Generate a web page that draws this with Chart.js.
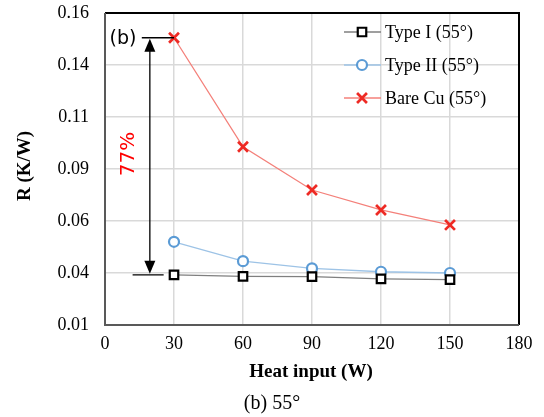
<!DOCTYPE html>
<html>
<head>
<meta charset="utf-8">
<title>R vs heat input (55°)</title>
<script src="https://cdn.jsdelivr.net/npm/chart.js@4.4.1/dist/chart.umd.min.js"></script>
<style>
  html, body { margin: 0; padding: 0; background: #fff; }
  #wrap { width: 544px; height: 417px; }
</style>
</head>
<body>
<div id="wrap"><canvas id="myChart" width="544" height="417"></canvas></div>
<script>
// heat input (W)
var heatInput = [30, 60, 90, 120, 150];
// thermal resistance R (K/W)
var typeI   = [0.0341, 0.0334, 0.0333, 0.0322, 0.0318];
var typeII  = [0.0500, 0.0407, 0.0372, 0.0356, 0.0350];
var bareCu  = [0.1481, 0.0957, 0.0749, 0.0653, 0.0581];
var seriesNames = ['Type I (55°)', 'Type II (55°)', 'Bare Cu (55°)'];
var yTickLabels = ['0.01', '0.04', '0.06', '0.09', '0.11', '0.14', '0.16'];
var xTickLabels = ['0', '30', '60', '90', '120', '150', '180'];

var serif = '"Liberation Serif", "Times New Roman", serif';
var sans = '"DejaVu Sans", sans-serif';

function toPoints(ys) {
  return heatInput.map(function (x, i) { return { x: x, y: ys[i] }; });
}

// legend, frame, axis titles, caption and the 77% annotation
var decorPlugin = {
  id: 'decor',
  afterDraw: function (chart) {
    var ctx = chart.ctx;
    var a = chart.chartArea;
    var xs = chart.scales.x, ys = chart.scales.y;
    ctx.save();

    // frame
    ctx.strokeStyle = '#000';
    ctx.lineWidth = 2;
    ctx.beginPath();
    ctx.moveTo(a.left, a.top); ctx.lineTo(a.right, a.top); ctx.lineTo(a.right, a.bottom);
    ctx.stroke();
    ctx.strokeStyle = '#595959';
    ctx.beginPath();
    ctx.moveTo(a.left, a.top); ctx.lineTo(a.left, a.bottom); ctx.lineTo(a.right, a.bottom);
    ctx.stroke();

    // legend
    var ds = chart.data.datasets;
    for (var i = 0; i < ds.length; i++) {
      var ly = 32 + i * 33;
      ctx.strokeStyle = ds[i].borderColor;
      ctx.lineWidth = 1.3;
      ctx.beginPath(); ctx.moveTo(344, ly); ctx.lineTo(381, ly); ctx.stroke();
      var opt = { pointStyle: ds[i].pointStyle, radius: ds[i].pointRadius, borderWidth: ds[i].pointBorderWidth };
      ctx.fillStyle = '#fff';
      ctx.strokeStyle = ds[i].pointBorderColor;
      ctx.lineWidth = ds[i].pointBorderWidth;
      Chart.helpers.drawPoint(ctx, opt, 362, ly);
      ctx.fillStyle = '#000';
      ctx.font = '18px ' + serif;
      ctx.textAlign = 'left';
      ctx.textBaseline = 'middle';
      ctx.fillText(seriesNames[i], 385, ly + 1);
    }

    // axis titles
    ctx.fillStyle = '#000';
    ctx.font = 'bold 19px ' + serif;
    ctx.textAlign = 'center';
    ctx.textBaseline = 'middle';
    ctx.fillText('Heat input (W)', 311, 372);
    ctx.save();
    ctx.translate(25, 166);
    ctx.rotate(-Math.PI / 2);
    ctx.fillText('R (K/W)', 0, 0);
    ctx.restore();

    // caption
    ctx.font = '20px ' + serif;
    ctx.fillText('(b) 55°', 272, 404);

    // reduction annotation
    var topY = ys.getPixelForValue(bareCu[0]);
    var botY = ys.getPixelForValue(typeI[0]);
    var ax = xs.getPixelForValue(19.5);
    ctx.strokeStyle = '#000';
    ctx.lineWidth = 1.3;
    ctx.beginPath();
    ctx.moveTo(xs.getPixelForValue(16), topY); ctx.lineTo(xs.getPixelForValue(30), topY);
    ctx.moveTo(xs.getPixelForValue(12), botY); ctx.lineTo(xs.getPixelForValue(25.5), botY);
    ctx.moveTo(ax, topY + 12); ctx.lineTo(ax, botY - 12);
    ctx.stroke();
    ctx.fillStyle = '#000';
    ctx.beginPath();
    ctx.moveTo(ax, topY + 1); ctx.lineTo(ax - 5.5, topY + 14); ctx.lineTo(ax + 5.5, topY + 14); ctx.closePath();
    ctx.fill();
    ctx.beginPath();
    ctx.moveTo(ax, botY - 1); ctx.lineTo(ax - 5.5, botY - 14); ctx.lineTo(ax + 5.5, botY - 14); ctx.closePath();
    ctx.fill();

    ctx.font = '19px ' + sans;
    ctx.textAlign = 'center';
    ctx.fillText('(b)', 123, topY + 1);

    ctx.save();
    ctx.translate(129, 154);
    ctx.rotate(-Math.PI / 2);
    ctx.fillStyle = '#ff0000';
    ctx.font = '20px ' + sans;
    ctx.fillText('77%', 0, 0);
    ctx.restore();

    ctx.restore();
  }
};

var bgPlugin = {
  id: 'bg',
  beforeDraw: function (chart) {
    var ctx = chart.ctx;
    ctx.save();
    ctx.fillStyle = '#fff';
    ctx.fillRect(0, 0, chart.width, chart.height);
    ctx.restore();
  }
};

new Chart(document.getElementById('myChart'), {
  type: 'line',
  data: {
    datasets: [{
      label: seriesNames[0],
      data: toPoints(typeI),
      borderColor: '#7f7f7f',
      borderWidth: 1.3,
      pointStyle: 'rect',
      pointRadius: 6,
      pointBorderWidth: 2.2,
      pointBorderColor: '#000',
      pointBackgroundColor: '#fff'
    }, {
      label: seriesNames[1],
      data: toPoints(typeII),
      borderColor: '#9dc3e6',
      borderWidth: 1.3,
      pointStyle: 'circle',
      pointRadius: 5,
      pointBorderWidth: 2.2,
      pointBorderColor: '#5b9bd5',
      pointBackgroundColor: '#fff'
    }, {
      label: seriesNames[2],
      data: toPoints(bareCu),
      borderColor: '#f4807a',
      borderWidth: 1.3,
      pointStyle: 'crossRot',
      pointRadius: 7,
      pointBorderWidth: 2.7,
      pointBorderColor: '#ee2a24',
      pointBackgroundColor: '#fff'
    }]
  },
  options: {
    responsive: false,
    animation: false,
    events: [],
    layout: { padding: { left: 0, right: 25, top: 13, bottom: 0 } },
    plugins: { legend: { display: false }, tooltip: { enabled: false } },
    scales: {
      x: {
        type: 'linear',
        min: 0, max: 180,
        afterFit: function (s) { s.height = 92; s.paddingLeft = 0; s.paddingRight = 0; },
        afterBuildTicks: function (s) { s.ticks = xTickLabels.map(function (t) { return { value: +t }; }); },
        grid: { color: '#d9d9d9', lineWidth: 1.5, drawTicks: false },
        border: { display: false },
        ticks: {
          padding: 8, color: '#000',
          font: { family: serif, size: 18 },
          callback: function (v, i) { return xTickLabels[i]; }
        }
      },
      y: {
        min: 0.01, max: 0.16,
        afterFit: function (s) { s.width = 105; s.paddingTop = 0; s.paddingBottom = 0; },
        afterBuildTicks: function (s) {
          s.ticks = yTickLabels.map(function (t, i) { return { value: 0.01 + i * 0.025 }; });
        },
        grid: { color: '#d9d9d9', lineWidth: 1.5, drawTicks: false },
        border: { display: false },
        ticks: {
          padding: 16, color: '#000',
          font: { family: serif, size: 18 },
          callback: function (v, i) { return yTickLabels[i]; }
        }
      }
    }
  },
  plugins: [bgPlugin, decorPlugin]
});
</script>
</body>
</html>
